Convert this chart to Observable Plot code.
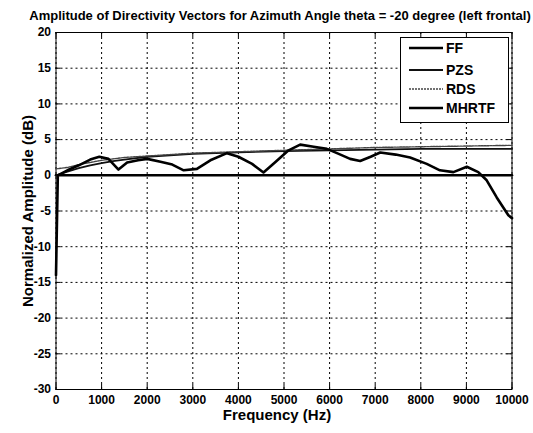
<!DOCTYPE html>
<html>
<head>
<meta charset="utf-8">
<script src="https://cdn.jsdelivr.net/npm/d3@7"></script>
<script src="https://cdn.jsdelivr.net/npm/@observablehq/plot@0.6"></script>
<style>
  body { margin: 0; background: #fff; }
  #chart { width: 533px; height: 433px; }
</style>
</head>
<body>
<div id="chart"></div>
<script>
// Tick values for both axes
const xTicks = [0, 1000, 2000, 3000, 4000, 5000, 6000, 7000, 8000, 9000, 10000];
const yTicks = [-30, -25, -20, -15, -10, -5, 0, 5, 10, 15, 20];

// Free-field reference (flat 0 dB)
const ffFreq = [0, 10000];
const ffAmp = [0, 0];

// Smooth model curves
const smoothFreq = [0, 250, 500, 750, 1000, 1250, 1500, 2000, 2500, 3000, 3500, 4000, 5000, 6000, 7000, 8000, 9000, 10000];
const pzsAmp = [0, 0.5, 1.0, 1.4, 1.7, 2.0, 2.2, 2.6, 2.8, 3.0, 3.1, 3.2, 3.4, 3.5, 3.6, 3.7, 3.7, 3.7];
const rdsAmp = [0.9, 1.1, 1.5, 1.8, 2.1, 2.3, 2.5, 2.7, 2.9, 3.1, 3.2, 3.3, 3.5, 3.7, 3.9, 4.0, 4.1, 4.2];

// Measured HRTF-based curve
const mhrtfFreq = [0, 40, 250, 500, 750, 950, 1150, 1370, 1560, 1800, 2000, 2290, 2550, 2800, 3090, 3385, 3750, 4000, 4300, 4550, 4800, 5100, 5355, 5650, 5940, 6200, 6450, 6670, 6900, 7110, 7450, 7765, 8130, 8420, 8715, 9010, 9260, 9445, 9665, 9920, 10000];
const mhrtfAmp = [-14, 0, 0.7, 1.4, 2.2, 2.6, 2.3, 0.8, 1.8, 2.1, 2.3, 1.9, 1.5, 0.7, 0.9, 2.1, 3.1, 2.6, 1.6, 0.4, 1.8, 3.5, 4.3, 4.0, 3.7, 3.0, 2.3, 2.0, 2.6, 3.2, 2.9, 2.5, 1.6, 0.7, 0.45, 1.2, 0.45, -0.7, -3.1, -5.6, -6.0];

const toRows = (f, a) => f.map((v, i) => ({freq: v, amp: a[i]}));

const series = [
  {name: "FF", rows: toRows(ffFreq, ffAmp), stroke: "#000", width: 2.6, dash: null},
  {name: "PZS", rows: toRows(smoothFreq, pzsAmp), stroke: "#111", width: 1.8, dash: null},
  {name: "RDS", rows: toRows(smoothFreq, rdsAmp), stroke: "#444", width: 1.4, dash: "2,1"},
  {name: "MHRTF", rows: toRows(mhrtfFreq, mhrtfAmp), stroke: "#000", width: 2.6, dash: null}
];

const frameH = 433 - 32 - 44;
const frameW = 533 - 55.5 - 21.5;
const font = "'Liberation Sans', Arial, Helvetica, sans-serif";

const plot = Plot.plot({
  width: 533,
  height: 433,
  marginLeft: 55.5,
  marginRight: 21.5,
  marginTop: 32,
  marginBottom: 44,
  x: {domain: [0, 10000]},
  y: {domain: [-30, 20]},
  style: {fontFamily: font, fontWeight: "bold", fontSize: "12px", color: "#000", background: "#fff"},
  marks: [
    Plot.gridX(xTicks, {stroke: "#000", strokeOpacity: 1, strokeWidth: 1, strokeDasharray: "2,3"}),
    Plot.gridY(yTicks, {stroke: "#000", strokeOpacity: 1, strokeWidth: 1, strokeDasharray: "2,3"}),
    // inward tick marks on all four sides
    Plot.tickX(xTicks, {x: d => d, insetTop: frameH - 5, stroke: "#000"}),
    Plot.tickX(xTicks, {x: d => d, insetBottom: frameH - 5, stroke: "#000"}),
    Plot.tickY(yTicks, {y: d => d, insetRight: frameW - 5, stroke: "#000"}),
    Plot.tickY(yTicks, {y: d => d, insetLeft: frameW - 5, stroke: "#000"}),
    Plot.frame({stroke: "#000", strokeWidth: 1}),
    Plot.axisX(xTicks, {tickSize: 0, tickPadding: 6, label: null, tickFormat: d => String(d)}),
    Plot.axisY(yTicks, {tickSize: 0, tickPadding: 5, label: null, tickFormat: d => String(d)}),
    ...series.map(s => Plot.line(s.rows, {
      x: "freq", y: "amp", stroke: s.stroke, strokeWidth: s.width,
      strokeDasharray: s.dash, strokeLinejoin: "round"
    })),
    Plot.text(["Amplitude of Directivity Vectors for Azimuth Angle theta = -20 degree (left frontal)"], {
      frameAnchor: "top", textAnchor: "middle", dy: -22, dx: -4, fontSize: 13, fontWeight: "bold",
      letterSpacing: "0.35px"
    }),
    Plot.text(["Normalized Amplitude (dB)"], {
      frameAnchor: "left", textAnchor: "middle", rotate: -90, dx: -28, fontSize: 15, fontWeight: "bold"
    }),
    Plot.text(["Frequency (Hz)"], {
      frameAnchor: "bottom", textAnchor: "middle", dy: 30, dx: -7, fontSize: 15, fontWeight: "bold"
    })
  ]
});

// Legend box in the upper-right corner of the axes
const svg = d3.select(plot);
const lg = svg.append("g").attr("font-family", font).attr("font-weight", "bold")
  .attr("font-size", 14).attr("text-anchor", "start");
lg.append("rect").attr("x", 400.5).attr("y", 37.5).attr("width", 108).attr("height", 85)
  .attr("fill", "#fff").attr("stroke", "#000");
const rowY = [48, 70, 89, 108];
series.forEach((s, i) => {
  lg.append("line").attr("x1", 409).attr("x2", 443).attr("y1", rowY[i]).attr("y2", rowY[i])
    .attr("stroke", s.stroke).attr("stroke-width", s.width)
    .attr("stroke-dasharray", s.dash);
  lg.append("text").attr("x", 446).attr("y", rowY[i]).attr("dy", "0.35em")
    .attr("text-anchor", "start").text(s.name);
});

document.getElementById("chart").append(plot);
</script>
</body>
</html>
